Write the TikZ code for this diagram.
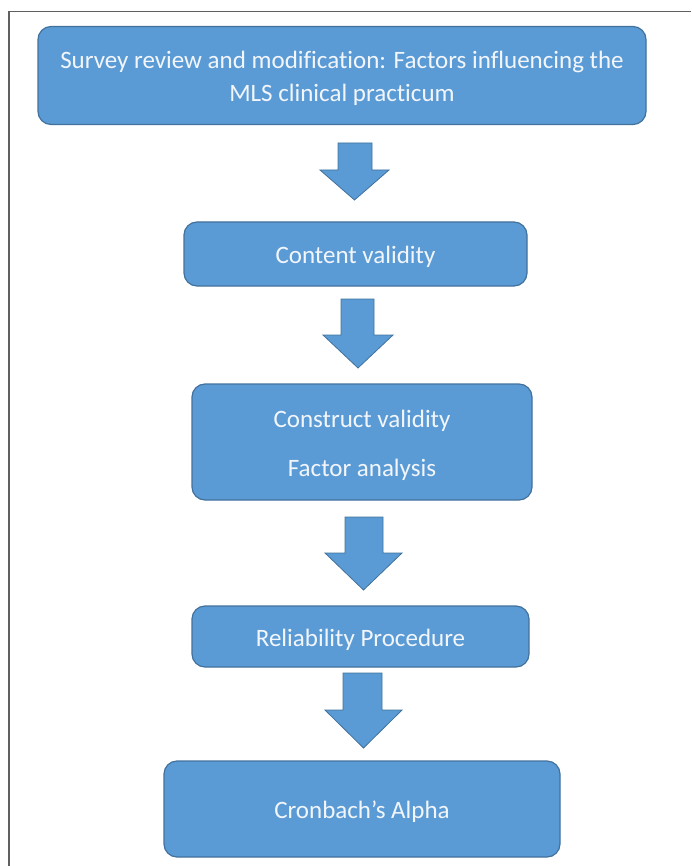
\documentclass[tikz,border=0pt]{standalone}
\usepackage{fontspec}
\setmainfont{Carlito}[Ligatures=NoCommon]
\definecolor{boxfill}{HTML}{5B9BD5}
\definecolor{boxline}{HTML}{41719C}
\definecolor{boxtext}{HTML}{F2F6FB}
\definecolor{frameline}{HTML}{606060}
\newcommand{\topgap}{\rule{0pt}{23.5pt}}
\begin{document}
\begin{tikzpicture}[x=1pt,y=-1pt,
  flowbox/.style={draw=boxline, fill=boxfill, line width=1.2pt, rounded corners=13pt,
    text=boxtext, font=\fontsize{25}{33}\selectfont, align=center, inner sep=0pt},
  blockarrow/.style={draw=boxline, fill=boxfill, line width=0.8pt, line join=miter}]
\useasboundingbox (0,0) rectangle (691,866);
\draw[frameline, line width=1.5pt] (9,866) -- (9,11.5) -- (691,11.5);

\node[flowbox, minimum width=608pt, minimum height=98pt] (b1) at (342,75.5)
  {\topgap Survey review and modification: Factors influencing the\\MLS clinical practicum};
\node[flowbox, minimum width=343pt, minimum height=64pt] (b2) at (355.5,254)
  {\topgap Content validity};
\node[flowbox, minimum width=340pt, minimum height=116pt] (b3) at (362,442)
  {\topgap Construct validity\\[16pt]Factor analysis};
\node[flowbox, minimum width=337pt, minimum height=61pt] (b4) at (360.5,636.5)
  {\topgap Reliability Procedure};
\node[flowbox, minimum width=396pt, minimum height=96pt] (b5) at (362,809)
  {\topgap Cronbach’s Alpha};

% block arrows between the boxes
\draw[blockarrow] (338,143) -- (372,143) -- (372,170) -- (389,170) -- (354.5,200)
  -- (320,170) -- (338,170) -- cycle;
\draw[blockarrow] (341,299) -- (374,299) -- (374,335) -- (393,335) -- (358,368)
  -- (323,335) -- (341,335) -- cycle;
\draw[blockarrow] (345,517) -- (383,517) -- (383,553) -- (402,553) -- (363.5,590)
  -- (325,553) -- (345,553) -- cycle;
\draw[blockarrow] (343,673) -- (382,673) -- (382,710) -- (402,710) -- (363.5,748)
  -- (325,710) -- (343,710) -- cycle;
\end{tikzpicture}
\end{document}
